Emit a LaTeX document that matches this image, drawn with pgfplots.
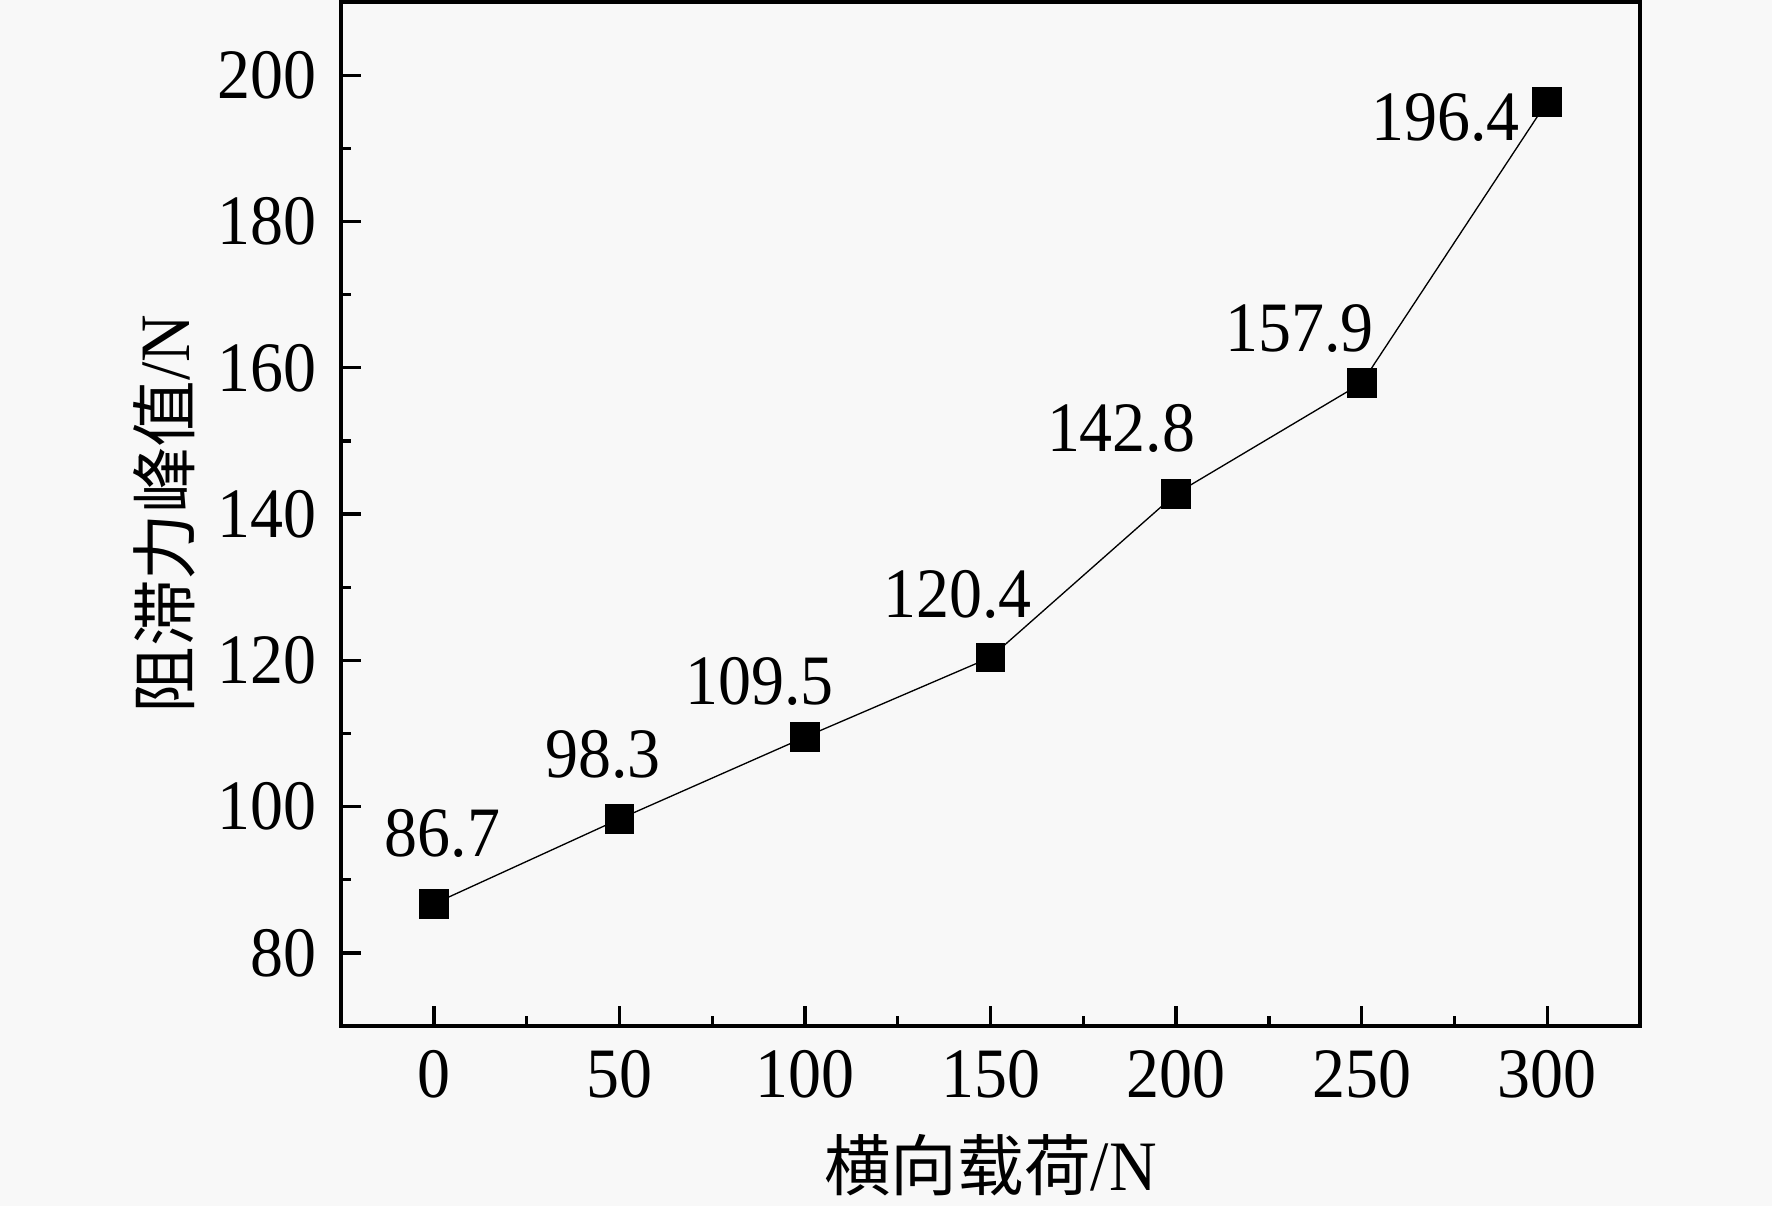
\documentclass[border=0pt]{standalone}
\usepackage{fontspec}
\setmainfont{Liberation Serif}[FakeStretch=0.93]
\newfontfamily\cjk{Noto Sans CJK SC}[Scale=0.94]
\usepackage{pgfplots}
\pgfplotsset{compat=1.18}
\definecolor{bgc}{RGB}{248,248,248}
\begin{document}
\fontsize{16}{19}\selectfont
\begin{tikzpicture}
\fill[bgc] (-77pt,-40.6pt) rectangle (323pt,231.6pt);
\begin{axis}[
  scale only axis,
  width=293.2pt, height=231.1pt,
  xmin=-25, xmax=325, ymin=70, ymax=210,
  xtick={0,50,...,300}, ytick={80,100,...,200},
  minor x tick num=1, minor y tick num=1,
  tick pos=left, tick align=inside,
  major tick length=4.5pt, minor tick length=2.2pt,
  every tick/.style={black, line width=0.75pt},
  axis line style={black, line width=1pt},
  /pgf/number format/assume math mode=true,
  ticklabel style={font=\fontsize{16}{19}\selectfont},
  xlabel={{\cjk 横向载荷}/N},
  ylabel={{\cjk 阻滞力峰值}/N},
  xlabel style={at={(axis description cs:0.5,-0.105)}, anchor=north, inner sep=0pt, font=\fontsize{16}{19}\selectfont},
  ylabel style={at={(axis description cs:-0.112,0.5)}, anchor=south, rotate=0, inner sep=0pt, font=\fontsize{16}{19}\selectfont},
]
\addplot[black, line width=0.3pt, mark=square*, mark size=3.25pt, mark options={fill=black, draw=black, line width=0pt}]
coordinates {(0,86.7) (50,98.3) (100,109.5) (150,120.4) (200,142.8) (250,157.9) (300,196.4)};
\node[anchor=base, xshift=1.9pt, yshift=10.6pt] at (axis cs:0,86.7) {86.7};
\node[anchor=base, xshift=-3.7pt, yshift=9.3pt] at (axis cs:50,98.3) {98.3};
\node[anchor=base, xshift=-10.2pt, yshift=7.4pt] at (axis cs:100,109.5) {109.5};
\node[anchor=base, xshift=-7.5pt, yshift=9.1pt] at (axis cs:150,120.4) {120.4};
\node[anchor=base, xshift=-12.4pt, yshift=9.5pt] at (axis cs:200,142.8) {142.8};
\node[anchor=base, xshift=-14.0pt, yshift=7.1pt] at (axis cs:250,157.9) {157.9};
\node[anchor=base, xshift=-23.0pt, yshift=-8.8pt] at (axis cs:300,196.4) {196.4};
\end{axis}
\end{tikzpicture}
\end{document}
